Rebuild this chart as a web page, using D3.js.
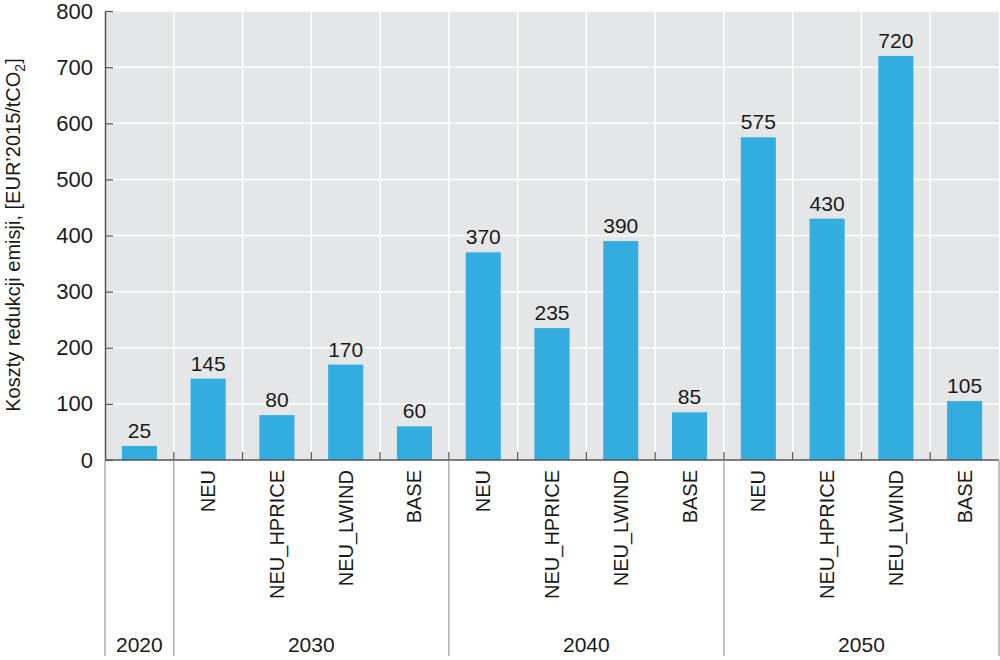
<!DOCTYPE html>
<html>
<head>
<meta charset="utf-8">
<script src="https://cdn.jsdelivr.net/npm/d3@7"></script>
<style>
  body { margin: 0; background: #fff; }
  text { font-family: "Liberation Sans", Arial, sans-serif; fill: #1a1a1a; }
</style>
</head>
<body>
<div id="chart"></div>
<script>
// data
var years = ["2020", "2030", "2030", "2030", "2030", "2040", "2040", "2040", "2040", "2050", "2050", "2050", "2050"];
var scenarios = ["", "NEU", "NEU_HPRICE", "NEU_LWIND", "BASE", "NEU", "NEU_HPRICE", "NEU_LWIND", "BASE", "NEU", "NEU_HPRICE", "NEU_LWIND", "BASE"];
var costs = [25, 145, 80, 170, 60, 370, 235, 390, 85, 575, 430, 720, 105];
var yTicks = [0, 100, 200, 300, 400, 500, 600, 700, 800];
var groups = ["2020", "2030", "2040", "2050"];

var w = 1000, h = 660;
var mLeft = 105, mRight = 999, mTop = 11, mBottom = 460;

var svg = d3.select("#chart").append("svg")
  .attr("width", w).attr("height", h);

var x = d3.scaleBand()
  .domain(d3.range(costs.length))
  .range([mLeft, mRight])
  .paddingInner(0.49).paddingOuter(0.245);

var y = d3.scaleLinear().domain([0, 800]).range([mBottom, mTop]);

// background
svg.append("rect")
  .attr("x", mLeft).attr("y", mTop)
  .attr("width", mRight - mLeft).attr("height", mBottom - mTop)
  .attr("fill", "#e5e6e8");

var step = x.step();
function edge(i) { return mLeft + i * step; }

// grid
svg.selectAll("line.hgrid").data(yTicks.slice(1))
  .enter().append("line")
  .attr("class", "hgrid")
  .attr("x1", mLeft).attr("x2", mRight)
  .attr("y1", function(d) { return y(d); })
  .attr("y2", function(d) { return y(d); })
  .attr("stroke", "#fff").attr("stroke-width", 1.5);

svg.selectAll("line.vgrid").data(d3.range(1, costs.length))
  .enter().append("line")
  .attr("class", "vgrid")
  .attr("x1", function(d) { return edge(d); })
  .attr("x2", function(d) { return edge(d); })
  .attr("y1", mTop).attr("y2", mBottom)
  .attr("stroke", "#fff").attr("stroke-width", 1.5);

// bars
svg.selectAll("rect.bar").data(costs)
  .enter().append("rect")
  .attr("class", "bar")
  .attr("x", function(d, i) { return x(i); })
  .attr("width", x.bandwidth())
  .attr("y", function(d) { return y(d); })
  .attr("height", function(d) { return mBottom - y(d); })
  .attr("fill", "#33ade0");

// value labels
svg.selectAll("text.val").data(costs)
  .enter().append("text")
  .attr("class", "val")
  .attr("x", function(d, i) { return x(i) + x.bandwidth() / 2; })
  .attr("y", function(d) { return y(d) - 8; })
  .attr("text-anchor", "middle")
  .attr("font-size", "21px")
  .text(function(d) { return d; });

// y axis
var yAxis = d3.axisLeft(y).tickValues(yTicks).tickSizeInner(-8).tickSizeOuter(0).tickPadding(12);
var ya = svg.append("g").attr("transform", "translate(" + mLeft + ",0)").call(yAxis);
ya.select(".domain").attr("stroke", "#555").attr("stroke-width", 1.5);
ya.selectAll(".tick line").attr("stroke", "#555").attr("stroke-width", 1.2);
ya.selectAll(".tick text").attr("font-size", "22px").attr("font-family", "Liberation Sans, Arial, sans-serif").attr("fill", "#1a1a1a");

// x axis line and ticks
svg.append("line")
  .attr("x1", mLeft).attr("x2", mRight)
  .attr("y1", mBottom).attr("y2", mBottom)
  .attr("stroke", "#555").attr("stroke-width", 1.5);
svg.selectAll("line.xtick").data(d3.range(1, costs.length))
  .enter().append("line")
  .attr("class", "xtick")
  .attr("x1", function(d) { return edge(d); })
  .attr("x2", function(d) { return edge(d); })
  .attr("y1", mBottom).attr("y2", mBottom - 8)
  .attr("stroke", "#555").attr("stroke-width", 1.2);

// scenario labels
svg.selectAll("text.cat").data(scenarios)
  .enter().append("text")
  .attr("class", "cat")
  .attr("transform", function(d, i) {
    return "translate(" + (x(i) + x.bandwidth() / 2) + "," + (mBottom + 10) + ") rotate(-90)";
  })
  .attr("dy", "0.35em")
  .attr("text-anchor", "end")
  .attr("font-size", "20px")
  .text(function(d) { return d; });

// group separators and labels
var groupStart = {};
var groupEnd = {};
years.forEach(function(g, i) {
  if (groupStart[g] === undefined) groupStart[g] = i;
  groupEnd[g] = i + 1;
});
var seps = [0];
groups.forEach(function(g) { seps.push(groupEnd[g]); });

svg.selectAll("line.sep").data(seps)
  .enter().append("line")
  .attr("class", "sep")
  .attr("x1", function(d) { return edge(d); })
  .attr("x2", function(d) { return edge(d); })
  .attr("y1", mBottom).attr("y2", 656)
  .attr("stroke", "#999").attr("stroke-width", 1.2);

svg.selectAll("text.grp").data(groups)
  .enter().append("text")
  .attr("class", "grp")
  .attr("x", function(g) { return (edge(groupStart[g]) + edge(groupEnd[g])) / 2; })
  .attr("y", 652)
  .attr("text-anchor", "middle")
  .attr("font-size", "21px")
  .text(function(g) { return g; });

// y axis title
var yt = svg.append("text")
  .attr("transform", "translate(20," + 235 + ") rotate(-90)")
  .attr("text-anchor", "middle")
  .attr("font-size", "20px");
yt.append("tspan").text("Koszty redukcji emisji, [EUR’2015/tCO");
yt.append("tspan").attr("dy", "5").attr("font-size", "14px").text("2");
yt.append("tspan").attr("dy", "-5").text("]");
</script>
</body>
</html>
